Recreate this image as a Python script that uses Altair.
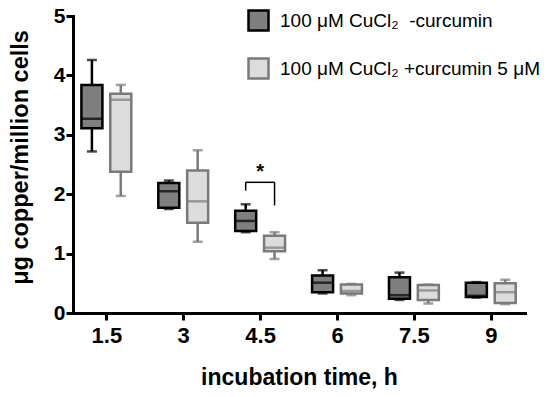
import altair as alt
import pandas as pd

times = [1.5, 3, 4.5, 6, 7.5, 9]
series = ["100 μM CuCl₂\u00a0 -curcumin", "100 μM CuCl₂ +curcumin 5 μM"]

dark_lo = [2.72, 1.75, 1.36, 0.33, 0.22, 0.26]
dark_q1 = [3.11, 1.77, 1.38, 0.35, 0.24, 0.27]
dark_med = [3.27, 2.05, 1.55, 0.51, 0.30, 0.29]
dark_q3 = [3.84, 2.19, 1.72, 0.63, 0.60, 0.51]
dark_hi = [4.26, 2.23, 1.83, 0.72, 0.68, 0.52]

light_lo = [1.97, 1.20, 0.91, 0.30, 0.16, 0.15]
light_q1 = [2.38, 1.52, 1.04, 0.33, 0.22, 0.17]
light_med = [3.59, 1.88, 1.10, 0.37, 0.38, 0.35]
light_q3 = [3.69, 2.40, 1.30, 0.48, 0.47, 0.50]
light_hi = [3.84, 2.74, 1.36, 0.49, 0.48, 0.56]

# significance annotation (4.5 h)
sig_time = 4.5
sig_top = 2.2
sig_left_end = 2.06
sig_right_end = 1.81
star_y = 2.38

OFF = 0.2815  # half-distance between paired boxes (x units)

rows = []
for i, t in enumerate(times):
    rows.append(dict(time=t, series=series[0], k=-1, lo=dark_lo[i], q1=dark_q1[i],
                     med=dark_med[i], q3=dark_q3[i], hi=dark_hi[i]))
    rows.append(dict(time=t, series=series[1], k=1, lo=light_lo[i], q1=light_q1[i],
                     med=light_med[i], q3=light_q3[i], hi=light_hi[i]))
df = pd.DataFrame(rows)

FONT = "Liberation Sans"
xs = alt.Scale(domain=[0.947, 9.57], nice=False, zero=False)
ys = alt.Scale(domain=[0, 5], nice=False)

DARK_STROKE, LIGHT_STROKE = "#000000", "#7a7a7a"
stroke_scale = alt.Scale(domain=series, range=[DARK_STROKE, LIGHT_STROKE])
fill_scale = alt.Scale(domain=series, range=["#7f7f7f", "#dcdcdc"])
line_color = alt.Color("k:N", scale=alt.Scale(domain=[-1, 1], range=[DARK_STROKE, LIGHT_STROKE]),
                       legend=None)

base = alt.Chart(df).transform_calculate(xpos=f"datum.time + datum.k * {OFF}")

X = alt.X("xpos:Q", scale=xs,
          axis=alt.Axis(values=times, title="incubation time, h", grid=False,
                        labelExpr="datum.value",
                        labelFontSize=22, labelFontWeight="bold",
                        labelFont=FONT, labelColor="black", labelPadding=5,
                        titleFont=FONT, titleFontSize=23, titleFontWeight="bold",
                        titlePadding=20, titleColor="black",
                        domainColor="black", domainWidth=3, tickColor="black",
                        tickWidth=3, tickSize=7))
Y = alt.Y("lo:Q", scale=ys,
          axis=alt.Axis(values=[0, 1, 2, 3, 4, 5], format="d", title="μg copper/million cells",
                        grid=False, labelFontSize=21, labelFontWeight="bold",
                        labelFont=FONT, labelColor="black", labelPadding=1,
                        titleFont=FONT, titleFontSize=23.5, titleFontWeight="bold",
                        titlePadding=21, titleColor="black", titleY=141,
                        domainColor="black", domainWidth=3, tickColor="black",
                        tickWidth=3, tickSize=7))

whisker = base.mark_rule(strokeWidth=2.5).encode(x=X, y=Y, y2="hi:Q", color=line_color)

leg = alt.Legend(title=None, orient="none", legendX=174, legendY=-7,
                 symbolType="square", symbolSize=400,
                 symbolStrokeWidth=2.5, symbolOpacity=1,
                 labelFont=FONT, labelFontSize=19, labelColor="black",
                 labelOffset=10, rowPadding=17, labelLimit=400)

box = base.mark_bar(size=21, strokeWidth=2.5).encode(
    x=alt.X("xpos:Q", scale=xs), y="q1:Q", y2="q3:Q",
    fill=alt.Fill("series:N", scale=fill_scale, legend=leg),
    stroke=alt.Stroke("series:N", scale=stroke_scale, legend=leg),
)

median = base.mark_tick(orient="horizontal", size=21, thickness=2.5).encode(
    x=alt.X("xpos:Q", scale=xs), y="med:Q", color=line_color)

cap_lo = base.mark_tick(orient="horizontal", size=10, thickness=2.5).encode(
    x=alt.X("xpos:Q", scale=xs), y="lo:Q", color=line_color)
cap_hi = base.mark_tick(orient="horizontal", size=10, thickness=2.5).encode(
    x=alt.X("xpos:Q", scale=xs), y="hi:Q", color=line_color)

sig = pd.DataFrame({"x1": [sig_time - OFF, sig_time - OFF, sig_time + OFF],
                    "x2": [sig_time + OFF, sig_time - OFF, sig_time + OFF],
                    "y1": [sig_top, sig_top, sig_top],
                    "y2": [sig_top, sig_left_end, sig_right_end]})
bracket = alt.Chart(sig).mark_rule(color="black", strokeWidth=1.5).encode(
    x=alt.X("x1:Q", scale=xs), x2="x2:Q", y=alt.Y("y1:Q", scale=ys), y2="y2:Q")

star = alt.Chart(pd.DataFrame({"x": [sig_time], "y": [star_y], "t": ["*"]})).mark_text(
    font=FONT, fontSize=20, fontWeight="bold", color="black", baseline="middle").encode(
    x=alt.X("x:Q", scale=xs), y=alt.Y("y:Q", scale=ys), text="t:N")

chart = alt.layer(whisker, box, median, cap_lo, cap_hi, bracket, star).properties(
    width=452, height=297,
    autosize=alt.AutoSizeParams(type="none"),
    padding={"left": 65, "top": 8, "right": 17, "bottom": 76},
).configure_view(stroke=None).configure_axis(domainCap="square")

chart.save("out.html", embed_options={"renderer": "svg", "actions": False})
